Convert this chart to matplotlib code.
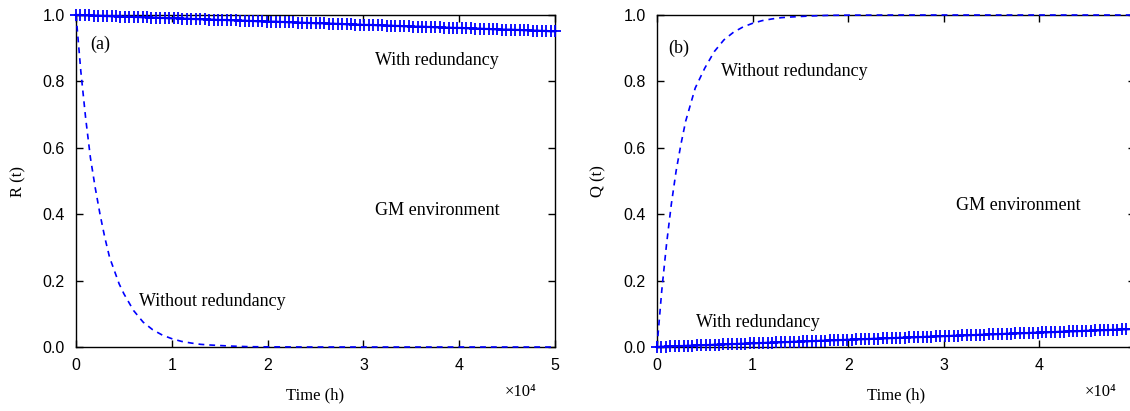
"""R(t) / Q(t) with and without redundancy, GM environment (two panels)."""

import matplotlib
import matplotlib.pyplot as plt
import numpy as np

matplotlib.use("Agg")

SERIF = ["Liberation Serif", "DejaVu Serif"]
SANS = ["Liberation Sans", "DejaVu Sans"]
BLUE = "#0000ff"

# time axis in units of 1e4 h
t_coarse = [0, 0.05, 0.1, 0.15, 0.2, 0.25, 0.3, 0.35, 0.4, 0.45, 0.5, 0.6, 0.7,
            0.8, 0.9, 1.0, 1.1, 1.2, 1.3, 1.4, 1.6, 1.8, 2.0, 2.5, 3.0, 4.0, 5.0]

# reliability without redundancy (panel a, dashed)
r_without = [1.0, 0.83, 0.69, 0.57, 0.48, 0.40, 0.33, 0.27, 0.23, 0.19, 0.16, 0.11, 0.075,
             0.052, 0.036, 0.025, 0.017, 0.012, 0.008, 0.006, 0.003, 0.001, 0.0005, 0.0, 0.0, 0.0, 0.0]

# unreliability without redundancy (panel b, dashed)
q_without = [0.0, 0.17, 0.31, 0.43, 0.53, 0.61, 0.68, 0.73, 0.78, 0.81, 0.84, 0.89, 0.925,
             0.948, 0.964, 0.975, 0.983, 0.988, 0.992, 0.994, 0.997, 0.999, 0.9995, 1.0, 1.0, 1.0, 1.0]

# dense sampling for the "+" series (109 samples over 0..5)
t_dense = np.linspace(0, 5, 109)

r_with = [
    1.000, 1.000, 0.999, 0.999, 0.998, 0.998, 0.997, 0.997, 0.996, 0.996,
    0.995, 0.995, 0.995, 0.994, 0.994, 0.993, 0.993, 0.992, 0.992, 0.991,
    0.991, 0.990, 0.990, 0.990, 0.989, 0.989, 0.988, 0.988, 0.987, 0.987,
    0.986, 0.986, 0.985, 0.985, 0.985, 0.984, 0.984, 0.983, 0.983, 0.982,
    0.982, 0.981, 0.981, 0.980, 0.980, 0.980, 0.979, 0.979, 0.978, 0.978,
    0.977, 0.977, 0.976, 0.976, 0.975, 0.975, 0.975, 0.974, 0.974, 0.973,
    0.973, 0.972, 0.972, 0.971, 0.971, 0.970, 0.970, 0.970, 0.969, 0.969,
    0.968, 0.968, 0.967, 0.967, 0.966, 0.966, 0.965, 0.965, 0.965, 0.964,
    0.964, 0.963, 0.963, 0.962, 0.962, 0.961, 0.961, 0.961, 0.960, 0.960,
    0.959, 0.959, 0.958, 0.958, 0.957, 0.957, 0.956, 0.956, 0.956, 0.955,
    0.955, 0.954, 0.954, 0.953, 0.953, 0.952, 0.952, 0.951, 0.951,
]

q_with = [
    0.000, 0.001, 0.001, 0.002, 0.002, 0.003, 0.003, 0.004, 0.004, 0.005,
    0.005, 0.006, 0.006, 0.007, 0.007, 0.008, 0.008, 0.009, 0.009, 0.010,
    0.010, 0.011, 0.011, 0.012, 0.012, 0.013, 0.013, 0.014, 0.014, 0.015,
    0.015, 0.016, 0.016, 0.017, 0.017, 0.018, 0.018, 0.019, 0.019, 0.020,
    0.020, 0.021, 0.021, 0.022, 0.022, 0.023, 0.023, 0.024, 0.024, 0.025,
    0.025, 0.026, 0.026, 0.027, 0.027, 0.028, 0.028, 0.029, 0.029, 0.030,
    0.030, 0.031, 0.031, 0.032, 0.032, 0.033, 0.033, 0.034, 0.034, 0.035,
    0.035, 0.036, 0.036, 0.037, 0.037, 0.038, 0.038, 0.039, 0.039, 0.040,
    0.040, 0.041, 0.041, 0.042, 0.042, 0.043, 0.043, 0.044, 0.044, 0.045,
    0.045, 0.046, 0.046, 0.047, 0.047, 0.048, 0.048, 0.049, 0.049, 0.050,
    0.050, 0.051, 0.051, 0.052, 0.052, 0.053, 0.053, 0.054, 0.054,
]

x_ticks = [0, 1, 2, 3, 4, 5]
y_ticks = [0.0, 0.2, 0.4, 0.6, 0.8, 1.0]
y_tick_labels = ["0.0", "0.2", "0.4", "0.6", "0.8", "1.0"]


def style_axes(ax, ylabel):
    ax.set_xlim(0, 5)
    ax.set_ylim(0, 1)
    ax.set_xticks(x_ticks)
    ax.set_yticks(y_ticks)
    ax.set_yticklabels(y_tick_labels)
    ax.tick_params(direction="in", length=5, width=1, top=True, right=True,
                   labelsize=11.5, pad=8)
    for lab in ax.get_xticklabels() + ax.get_yticklabels():
        lab.set_family(SANS)
    for sp in ax.spines.values():
        sp.set_linewidth(1.0)
    ax.set_xlabel("Time (h)", family=SERIF, fontsize=12, labelpad=10)
    ax.set_ylabel(ylabel, family=SERIF, fontsize=12, labelpad=12)
    ax.text(0.927, -0.135, "×10⁴", transform=ax.transAxes, family=SERIF,
            fontsize=12, ha="center", va="center")


def plus_series(ax, y):
    ax.plot(t_dense, y, color=BLUE, lw=1.6, marker="+", ms=8, mew=1.3, clip_on=False, zorder=5)


def dashed_series(ax, y):
    ax.plot(t_coarse, y, color=BLUE, lw=1.2, ls=(0, (3.5, 3)), clip_on=False, zorder=4)


fig = plt.figure(figsize=(11.3, 4.11), dpi=100)
ax_a = fig.add_axes([0.0673, 0.1557, 0.4239, 0.8078])
ax_b = fig.add_axes([0.5814, 0.1557, 0.4230, 0.8078])

# panel (a): reliability
dashed_series(ax_a, r_without)
plus_series(ax_a, r_with)
style_axes(ax_a, "R (t)")
txt = dict(family=SERIF, fontsize=13, ha="center", va="center")
ax_a.text(0.25, 0.913, "(a)", **txt)
ax_a.text(3.77, 0.864, "With redundancy", **txt)
ax_a.text(3.77, 0.41, "GM environment", **txt)
ax_a.text(1.42, 0.136, "Without redundancy", **txt)

# panel (b): unreliability
dashed_series(ax_b, q_without)
plus_series(ax_b, q_with)
style_axes(ax_b, "Q (t)")
ax_b.text(0.23, 0.90, "(b)", **txt)
ax_b.text(1.44, 0.831, "Without redundancy", **txt)
ax_b.text(3.78, 0.425, "GM environment", **txt)
ax_b.text(1.06, 0.075, "With redundancy", **txt)

fig.savefig("out.png", dpi=100)
